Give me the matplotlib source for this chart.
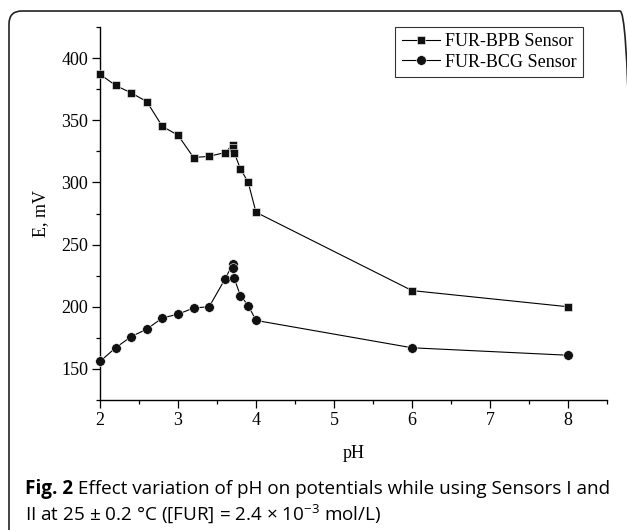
import matplotlib
matplotlib.use('Agg')
import matplotlib.pyplot as plt
from matplotlib.patches import FancyBboxPatch
from matplotlib.ticker import MultipleLocator

# ---- data ----
ph_bpb = [2.0, 2.2, 2.4, 2.6, 2.8, 3.0, 3.2, 3.4, 3.6, 3.7, 3.7, 3.72, 3.8, 3.9, 4.0, 6.0, 8.0]
e_bpb = [387, 378, 372, 365, 345, 338, 320, 321, 324, 330, 328, 324, 311, 300, 276, 213, 200]
ph_bcg = [2.0, 2.2, 2.4, 2.6, 2.8, 3.0, 3.2, 3.4, 3.6, 3.7, 3.7, 3.72, 3.8, 3.9, 4.0, 6.0, 8.0]
e_bcg = [156, 167, 176, 182, 191, 194, 199, 200, 222, 234, 231, 223, 209, 201, 189, 167, 161]
series_labels = ["FUR-BPB Sensor", "FUR-BCG Sensor"]
x_ticks = [2, 3, 4, 5, 6, 7, 8]
y_ticks = [150, 200, 250, 300, 350, 400]
caption_bold = "Fig. 2"
caption_rest1 = " Effect variation of pH on potentials while using Sensors I and"
caption_line2 = "II at 25 \u00b1 0.2 \u00b0C ([FUR] = 2.4 \u00d7 10$^{-3}$ mol/L)"

plt.rcParams['mathtext.fontset'] = 'custom'
plt.rcParams['mathtext.rm'] = 'Open Sans'
plt.rcParams['mathtext.default'] = 'regular'

W, H = 627, 530
fig = plt.figure(figsize=(W / 100, H / 100), dpi=100)
fig.patch.set_facecolor('white')

# rounded frame (right and bottom sides run past the canvas edge)
frame = FancyBboxPatch((0.09, -0.3), 6.24, 5.19 + 0.3,
                       boxstyle="round,pad=0,rounding_size=0.13",
                       transform=fig.dpi_scale_trans, fill=False,
                       edgecolor='#222222', linewidth=1.2, clip_on=False)
fig.add_artist(frame)

ax = fig.add_axes([100 / W, 130 / H, 507 / W, 373 / H])
serif = 'Liberation Serif'

ax.plot(ph_bpb, e_bpb, color='black', linewidth=0.8, marker='s', markersize=6.0,
        markerfacecolor='#111111', markeredgecolor='white', markeredgewidth=0.4,
        label=series_labels[0], clip_on=False, zorder=3)
ax.plot(ph_bcg, e_bcg, color='black', linewidth=0.8, marker='o', markersize=7.0,
        markerfacecolor='#111111', markeredgecolor='white', markeredgewidth=0.4,
        label=series_labels[1], clip_on=False, zorder=3)

ax.set_xlim(2, 8.5)
ax.set_ylim(125, 425)
ax.set_xticks(x_ticks)
ax.set_yticks(y_ticks)
ax.xaxis.set_minor_locator(MultipleLocator(0.5))
ax.yaxis.set_minor_locator(MultipleLocator(25))
for s in ['top', 'right']:
    ax.spines[s].set_visible(False)
for s in ['left', 'bottom']:
    ax.spines[s].set_linewidth(1.0)
    ax.spines[s].set_color('black')
ax.tick_params(which='major', direction='out', length=5.5, width=0.9, pad=3,
               labelsize=13)
ax.tick_params(which='minor', direction='out', length=3, width=0.9)
for lab in ax.get_xticklabels() + ax.get_yticklabels():
    lab.set_fontfamily(serif)

ax.set_xlabel('pH', fontfamily=serif, fontsize=13, labelpad=12)
ax.set_ylabel('E, mV', fontfamily=serif, fontsize=13, labelpad=9)

leg = ax.legend(loc='upper right', bbox_to_anchor=(483 / 507, 1.0),
                borderaxespad=0, frameon=True, fancybox=False, shadow=False,
                prop={'family': serif, 'size': 13}, handlelength=2.1,
                handletextpad=0.3, labelspacing=0.18, borderpad=0.35)
leg.get_frame().set_edgecolor('black')
leg.get_frame().set_linewidth(0.8)

# caption
sans = 'Open Sans'
fs = 13.6
t1 = fig.text(25 / W, (H - 494) / H, caption_bold, fontfamily=sans,
              fontweight='bold', fontsize=fs, va='baseline', ha='left')
fig.canvas.draw()
r = fig.canvas.get_renderer()
bb = t1.get_window_extent(r)
t2 = fig.text(bb.x1 / W, (H - 494) / H, caption_rest1, fontfamily=sans,
              fontsize=fs, va='baseline', ha='left')
t3 = fig.text(25 / W, (H - 520) / H, caption_line2, fontfamily=sans,
              fontsize=fs, va='baseline', ha='left')

fig.savefig('out.png', dpi=100)
